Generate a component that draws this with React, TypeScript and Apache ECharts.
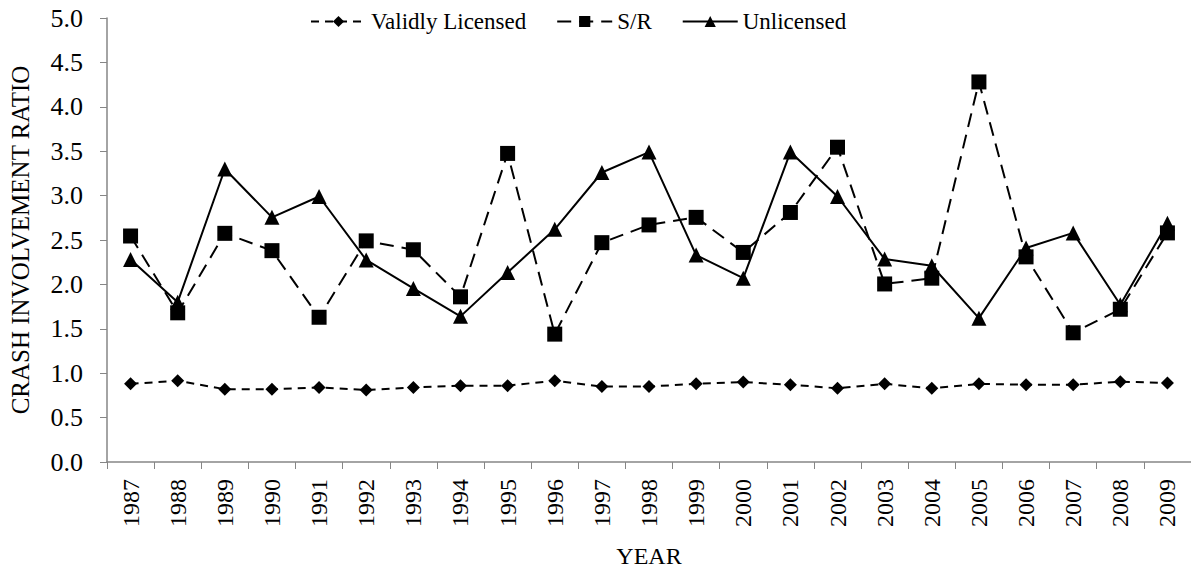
import React, { useEffect, useRef } from "react";
import * as echarts from "echarts";

const years = ["1987","1988","1989","1990","1991","1992","1993","1994","1995","1996","1997","1998","1999","2000","2001","2002","2003","2004","2005","2006","2007","2008","2009"];
const validlyLicensed = [0.88,0.915,0.82,0.82,0.84,0.81,0.84,0.86,0.86,0.915,0.85,0.85,0.88,0.90,0.87,0.83,0.88,0.83,0.88,0.87,0.87,0.905,0.89];
const suspendedRevoked = [2.545,1.68,2.575,2.38,1.63,2.49,2.39,1.86,3.475,1.44,2.47,2.67,2.755,2.36,2.81,3.545,2.005,2.07,4.28,2.31,1.455,1.72,2.58];
const unlicensed = [2.28,1.80,3.30,2.755,2.99,2.275,1.955,1.64,2.135,2.62,3.26,3.49,2.33,2.07,3.49,2.99,2.285,2.21,1.62,2.41,2.58,1.77,2.69];
const seriesNames = ["Validly Licensed", "S/R", "Unlicensed"];

const FONT = "Liberation Serif";

export default function App() {
  const ref = useRef<HTMLDivElement>(null);
  useEffect(() => {
    if (!ref.current) return;
    const chart = echarts.init(ref.current, null, { renderer: "svg" });
    const axisColor = "#868686";
    chart.setOption({
      animation: false,
      backgroundColor: "#fff",
      textStyle: { fontFamily: FONT, color: "#000" },
      legend: {
        top: 5,
        left: 305,
        itemWidth: 55,
        itemHeight: 14,
        itemGap: 30,
        textStyle: { fontFamily: FONT, fontSize: 23, color: "#000" },
        data: seriesNames,
      },
      grid: { left: 101, width: 1097, top: 18, bottom: 111, containLabel: false },
      xAxis: {
        type: "category",
        data: years,
        boundaryGap: true,
        name: "YEAR",
        nameLocation: "middle",
        nameGap: 82,
        nameTextStyle: { fontFamily: FONT, fontSize: 24, color: "#000" },
        axisLine: { lineStyle: { color: axisColor, width: 1.5 } },
        axisTick: { show: true, alignWithLabel: false, interval: 0, length: 7, lineStyle: { color: axisColor } },
        axisLabel: { rotate: 90, interval: 0, fontFamily: FONT, fontSize: 24, color: "#000", margin: 17 },
        splitLine: { show: false },
      },
      yAxis: {
        type: "value",
        min: 0,
        max: 5,
        interval: 0.5,
        name: "CRASH INVOLVEMENT RATIO",
        nameLocation: "middle",
        nameRotate: 90,
        nameGap: 74,
        nameTextStyle: { fontFamily: FONT, fontSize: 25, color: "#000" },
        axisLine: { show: true, lineStyle: { color: axisColor, width: 1.5 } },
        axisTick: { show: true, inside: false, length: 7, lineStyle: { color: axisColor } },
        axisLabel: { fontFamily: FONT, fontSize: 26, color: "#000", margin: 24, formatter: (v: number) => v.toFixed(1) },
        splitLine: { show: false },
      },
      series: [
        {
          name: seriesNames[0],
          type: "line",
          data: validlyLicensed,
          symbol: "diamond",
          symbolSize: 13,
          itemStyle: { color: "#000" },
          lineStyle: { color: "#000", width: 2, type: [8, 6] },
          z: 3,
        },
        {
          name: seriesNames[1],
          type: "line",
          data: suspendedRevoked,
          symbol: "rect",
          symbolSize: 15,
          itemStyle: { color: "#000" },
          lineStyle: { color: "#000", width: 2, type: [14, 8] },
          z: 2,
        },
        {
          name: seriesNames[2],
          type: "line",
          data: unlicensed,
          symbol: "triangle",
          symbolSize: 15,
          itemStyle: { color: "#000" },
          lineStyle: { color: "#000", width: 2, type: "solid" },
          z: 4,
        },
      ],
    });
    return () => chart.dispose();
  }, []);
  return (
    <div
      ref={ref}
      style={{ position: "fixed", left: 0, top: 0, width: 1191, height: 573, background: "#fff" }}
    />
  );
}
